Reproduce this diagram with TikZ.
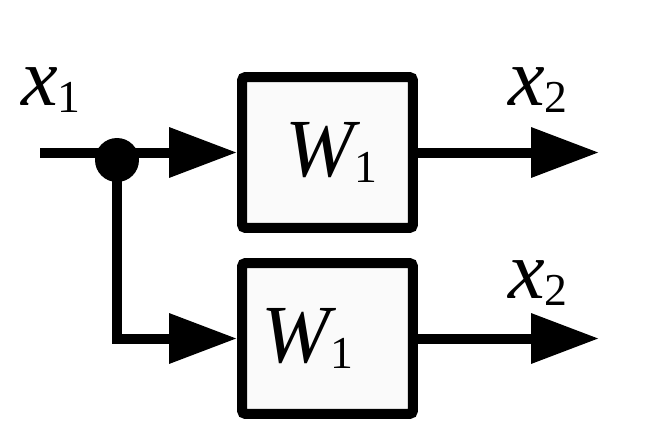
\documentclass[tikz,border=0pt]{standalone}
\usepackage{fontspec}
\setmainfont{Liberation Serif}
\usetikzlibrary{arrows.meta}

\newcommand{\sym}[2]{{\itshape #1}\raisebox{-3.5pt}{\fontsize{26}{26}\selectfont #2}}

\begin{document}
\begin{tikzpicture}[x=0.02cm, y=-0.02cm,
    block/.style={rectangle, draw, line width=0.2cm, fill=black!2, rounded corners=2pt, minimum width=3.42cm, minimum height=3.02cm, font=\fontsize{47}{52}\selectfont},
    sig/.style={line width=0.2cm, -{Triangle[length=1.36cm, width=0.96cm]}},
    lbl/.style={font=\fontsize{47}{52}\selectfont, inner sep=0pt}]
    \useasboundingbox (0,0) rectangle (655,429);

    % Blocks
    \node[block] (W1a) at (327.5,152.5) {\hspace{0.15cm}\sym{W}{1}};
    \node[block] (W1b) at (327.5,338.5) {\sym{W}{1}\kern0.8cm};

    % Input and branch point
    \coordinate (in) at (40,152.5);
    \node[circle, fill, inner sep=0pt, minimum size=0.88cm] (dot) at (117,160) {};
    \coordinate (outa) at (599,152.5);
    \coordinate (outb) at (599,338.5);

    % Labels
    \node[lbl] (xin) at (51,90) {\sym{x}{1}};
    \node[lbl] (xouta) at (538,90) {\sym{x}{2}};
    \node[lbl] (xoutb) at (538,283) {\sym{x}{2}};

    % Connections
    \draw[sig] (in) -- (W1a);
    \draw[sig] (dot.center) |- (W1b);
    \draw[sig] (W1a) -- (outa);
    \draw[sig] (W1b) -- (outb);
\end{tikzpicture}
\end{document}
